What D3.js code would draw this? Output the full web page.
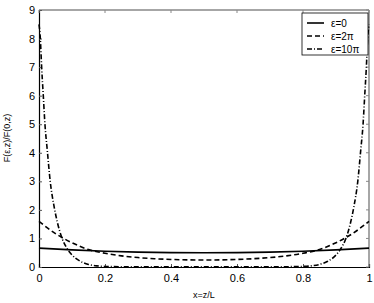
<!DOCTYPE html>
<html><head><meta charset="utf-8">
<script src="https://cdn.jsdelivr.net/npm/d3@7"></script>
<style>body{margin:0;background:#fff}svg{display:block}text{font-family:"Liberation Sans",Arial,sans-serif}</style>
</head><body><svg id="c" width="374" height="303"></svg>
<script>
const xTicks = [0, 0.2, 0.4, 0.6, 0.8, 1];
const yTicks = [0,1,2,3,4,5,6,7,8,9];
const xs0 = [0,0.1,0.2,0.3,0.4,0.5,0.6,0.7,0.8,0.9,1];
const eps0 = [0.66,0.6,0.55,0.52,0.505,0.5,0.505,0.52,0.55,0.6,0.66];
const xs2 = [0,0.05,0.1,0.15,0.2,0.25,0.3,0.35,0.4,0.45,0.5,0.55,0.6,0.65,0.7,0.75,0.8,0.85,0.9,0.95,1];
const eps2 = [1.6,1.17,0.85,0.61,0.48,0.39,0.33,0.29,0.265,0.25,0.245,0.25,0.265,0.29,0.33,0.39,0.48,0.61,0.85,1.17,1.6];
const xs10 = [0,0.004,0.008,0.013,0.018,0.025,0.034,0.046,0.056,0.07,0.085,0.1,0.125,0.15,0.175,0.2,0.25,0.3,0.4,0.5,0.6,0.7,0.75,0.8,0.825,0.85,0.875,0.9,0.915,0.93,0.944,0.954,0.966,0.975,0.982,0.987,0.992,0.996,1];
const eps10 = [8.5,8.0,7.0,6.0,5.0,4.1,3.0,2.1,1.55,1.0,0.65,0.42,0.2,0.09,0.04,0.02,0.01,0.005,0.003,0.003,0.003,0.005,0.01,0.02,0.04,0.09,0.2,0.42,0.65,1.0,1.55,2.1,3.0,4.1,5.0,6.0,7.0,8.0,8.5];
const legendLabels = ["ε=0","ε=2π","ε=10π"];

const svg = d3.select("#c");
const L=39,R=369,T=10,B=267;
const x = d3.scaleLinear().domain([0,1]).range([L,R]);
const y = d3.scaleLinear().domain([0,9]).range([B,T]);

// frame top/right gray
svg.append("line").attr("x1",L).attr("x2",R).attr("y1",T).attr("y2",T).attr("stroke","#888").attr("stroke-width",1.5);
svg.append("line").attr("x1",R).attr("x2",R).attr("y1",T).attr("y2",B).attr("stroke","#888").attr("stroke-width",1.5);

const gx = svg.append("g").attr("transform",`translate(0,${B})`)
  .call(d3.axisBottom(x).tickValues(xTicks).tickSize(-3).tickPadding(7).tickFormat(d=>d));
const gy = svg.append("g").attr("transform",`translate(${L},0)`)
  .call(d3.axisLeft(y).tickValues(yTicks).tickSize(-3).tickPadding(4));
[gx,gy].forEach(g=>{g.selectAll("text").attr("font-size",11).attr("fill","#000");g.select(".domain").attr("stroke","#000").attr("stroke-width",1.2);g.selectAll(".tick line").attr("stroke","#555");});
// top/right ticks
svg.append("g").selectAll("line").data(xTicks).join("line").attr("x1",d=>x(d)).attr("x2",d=>x(d)).attr("y1",T).attr("y2",T+3).attr("stroke","#888");
svg.append("g").selectAll("line").data(yTicks).join("line").attr("x1",R).attr("x2",R-3).attr("y1",d=>y(d)).attr("y2",d=>y(d)).attr("stroke","#888");

const line = d3.line().x(d=>x(d[0])).y(d=>y(d[1])).curve(d3.curveMonotoneX);
const series = [
  {xs:xs0, ys:eps0, dash:null},
  {xs:xs2, ys:eps2, dash:"5,3"},
  {xs:xs10, ys:eps10, dash:"5,2,1,2"}
];
series.forEach(s=>{
  svg.append("path").attr("d",line(s.xs.map((v,i)=>[v,s.ys[i]]))).attr("fill","none").attr("stroke","#000").attr("stroke-width",1.6).attr("stroke-dasharray",s.dash);
});

// legend
const lg = svg.append("g");
lg.append("rect").attr("x",302).attr("y",13).attr("width",66).attr("height",42).attr("fill","#fff").attr("stroke","#000").attr("stroke-width",0.8);
series.forEach((s,i)=>{
  const yy = 23+i*13;
  lg.append("line").attr("x1",307).attr("x2",324).attr("y1",yy).attr("y2",yy).attr("stroke","#000").attr("stroke-width",1.6).attr("stroke-dasharray",s.dash);
  lg.append("text").attr("x",331).attr("y",yy+3.5).attr("font-size",10).text(legendLabels[i]);
});

svg.append("text").attr("x",204).attr("y",298).attr("text-anchor","middle").attr("font-size",9).text("x=z/L");
svg.append("text").attr("transform","translate(10,138) rotate(-90)").attr("text-anchor","middle").attr("font-size",9).text("F(ε,z)/F(0,z)");
</script></body></html>
